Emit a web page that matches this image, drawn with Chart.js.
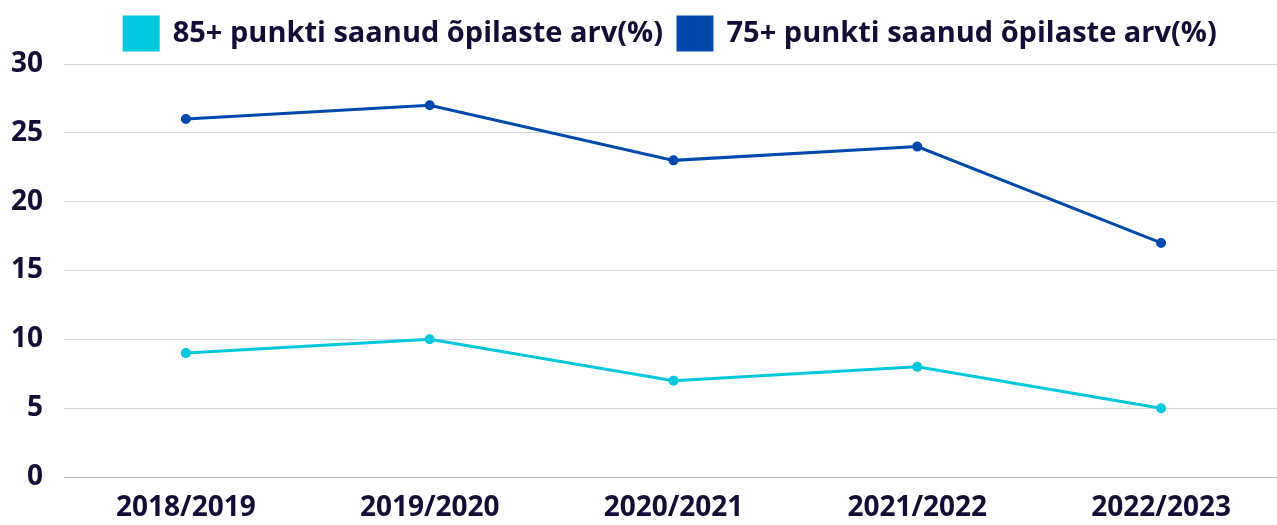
<!DOCTYPE html>
<html><head><meta charset="utf-8">
<script src="https://cdn.jsdelivr.net/npm/chart.js@4/dist/chart.umd.min.js"></script>
<style>html,body{margin:0;padding:0;overflow:hidden;background:#fff}#wrap{width:1283px;height:525px}</style>
</head><body><div id="wrap"><canvas id="c"></canvas></div>
<script>
const categories = ["2018/2019","2019/2020","2020/2021","2021/2022","2022/2023"];
const series85 = [9,10,7,8,5];
const series75 = [26,27,23,24,17];
const label85 = "85+ punkti saanud õpilaste arv(%)";
const label75 = "75+ punkti saanud õpilaste arv(%)";
const yTicks = [0,5,10,15,20,25,30];

const ink = "#150d36";
const fontFam = "'Open Sans', 'DejaVu Sans', sans-serif";

const legendTweak = {
  id: 'legendTweak',
  beforeLayout(chart) {
    const lg = chart.legend;
    if (lg && !lg._patched) {
      const fit = lg.fit;
      lg.fit = function() { fit.call(this); this.height += 4; };
      lg._patched = true;
    }
    const xs = chart.scales && chart.scales.x;
    if (xs && !xs._patched) {
      const cp = xs._calculatePadding;
      xs._calculatePadding = function() { cp.apply(this, arguments); this.paddingLeft = 0; this.paddingRight = 0; };
      xs._patched = true;
    }
  },
  afterLayout(chart) {
    const lg = chart.legend;
    if (lg) { lg.left += 23; lg.right += 23; }
  }
};

new Chart(document.getElementById('c'), {
  type: 'line',
  data: {
    labels: categories,
    datasets: [
      {label: label85, data: series85, borderColor: '#00c8dc', backgroundColor: '#00c8dc', borderWidth: 3, pointRadius: 3.5, pointBackgroundColor:'#00c8dc', tension: 0},
      {label: label75, data: series75, borderColor: '#004aad', backgroundColor: '#004aad', borderWidth: 3, pointRadius: 3.5, pointBackgroundColor:'#004aad', tension: 0}
    ]
  },
  plugins: [legendTweak],
  options: {
    responsive: true, maintainAspectRatio: false, animation: false,
    layout: {autoPadding: false, padding: {left: 12, right: 0, top: 2, bottom: 0}},
    plugins: {
      legend: {position: 'top', labels: {boxWidth: 34, boxHeight: 33, padding: 15, color: ink, font: {family: fontFam, size: 29, weight: 'bold'}}},
      tooltip: {enabled: false}
    },
    scales: {
      x: {offset: true, grid: {display: false, drawTicks: false}, border: {display: true, color: '#b9b9c3', width: 1},
          ticks: {color: ink, padding: 14, font: {family: fontFam, size: 28, weight: 'bold'}},
          afterFit: s => { s.paddingLeft = 0; s.paddingRight = 0; s.height = 48; }},
      y: {min: 0, max: 30, afterBuildTicks: a => { a.ticks = yTicks.map(v => ({value: v})); },
          grid: {color: '#d2d2d8', drawTicks: false}, border: {display: false},
          ticks: {color: ink, padding: 21, font: {family: fontFam, size: 28, weight: 'bold'}},
          afterFit: s => { s.width = 52; }}
    }
  }
});
</script></body></html>
